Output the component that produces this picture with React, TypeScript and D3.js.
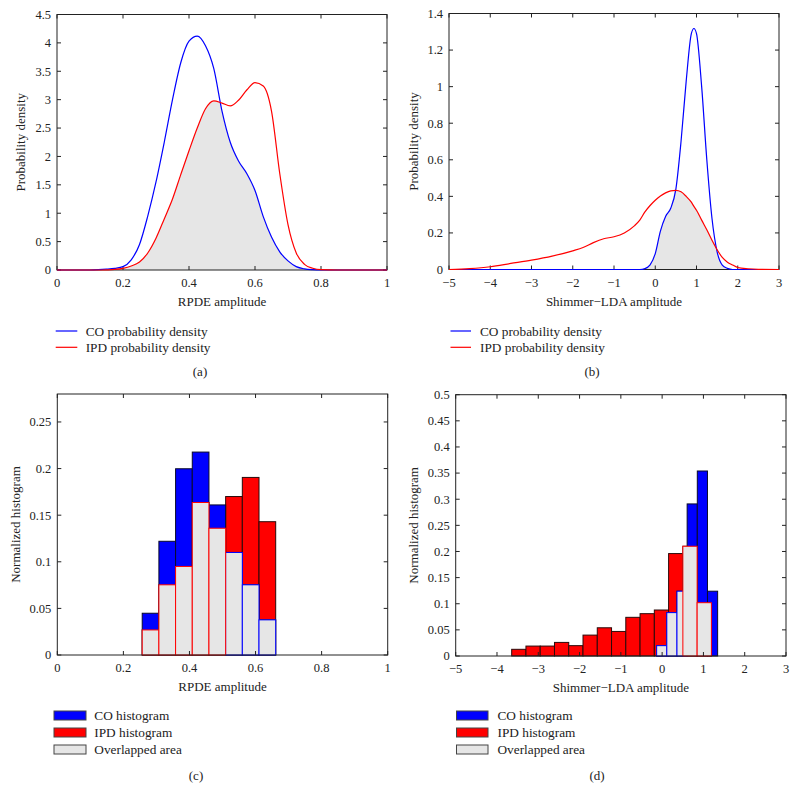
import React from "react";
import * as d3 from "d3";

// ---------- DATA ----------
// (a) RPDE probability densities (common x grid)
const rpdeX = [0, 0.05, 0.1, 0.125, 0.15, 0.175, 0.2, 0.225, 0.25, 0.275, 0.3, 0.325, 0.35, 0.375, 0.4, 0.425, 0.45, 0.475, 0.5, 0.525, 0.55, 0.575, 0.6, 0.625, 0.65, 0.675, 0.7, 0.725, 0.75, 0.775, 0.8, 0.85, 1];
const rpdeCO = [0, 0, 0, 0.005, 0.015, 0.03, 0.06, 0.18, 0.45, 0.95, 1.55, 2.25, 3.0, 3.65, 4.03, 4.12, 3.95, 3.55, 2.8, 2.25, 1.92, 1.7, 1.4, 0.94, 0.58, 0.32, 0.16, 0.06, 0.02, 0.005, 0, 0, 0];
const rpdeIPD = [0, 0, 0, 0, 0.003, 0.01, 0.03, 0.07, 0.14, 0.3, 0.56, 0.9, 1.25, 1.68, 2.1, 2.5, 2.84, 2.98, 2.94, 2.89, 2.99, 3.17, 3.3, 3.24, 2.8, 1.7, 0.8, 0.3, 0.1, 0.03, 0.005, 0, 0];

// (b) Shimmer-LDA probability densities (common x grid)
const shimX = [-5, -4.5, -4, -3.5, -3, -2.5, -2, -1.75, -1.5, -1.25, -1, -0.75, -0.5, -0.375, -0.25, -0.125, 0, 0.125, 0.25, 0.375, 0.5, 0.625, 0.75, 0.875, 0.9375, 1, 1.125, 1.25, 1.375, 1.5, 1.625, 1.75, 1.875, 2, 2.25, 2.5, 3];
const shimCO = [0, 0, 0, 0, 0, 0, 0, 0, 0, 0, 0, 0, 0, 0, 0.005, 0.025, 0.087, 0.21, 0.29, 0.335, 0.44, 0.7, 1.03, 1.29, 1.318, 1.29, 1.0, 0.6, 0.28, 0.097, 0.024, 0.006, 0, 0, 0, 0, 0];
const shimIPD = [0, 0.005, 0.015, 0.033, 0.051, 0.073, 0.102, 0.12, 0.147, 0.168, 0.179, 0.2, 0.24, 0.27, 0.315, 0.35, 0.379, 0.402, 0.419, 0.43, 0.433, 0.425, 0.4, 0.368, 0.345, 0.324, 0.27, 0.217, 0.16, 0.108, 0.066, 0.04, 0.025, 0.011, 0.004, 0.001, 0];

// (c) RPDE normalized histograms (shared bins)
const rpdeBinStart = 0.257;
const rpdeBinWidth = 0.0505;
const rpdeHistCO = [0.0448, 0.122, 0.1998, 0.2177, 0.161, 0.11, 0.0753, 0.0377];
const rpdeHistIPD = [0.0269, 0.0753, 0.095, 0.1636, 0.136, 0.17, 0.1905, 0.143];

// (d) Shimmer-LDA normalized histograms (separate bins)
const shimCOBinStart = -0.133;
const shimCOBinWidth = 0.2462;
const shimHistCO = [0.0198, 0.083, 0.124, 0.291, 0.354, 0.124];
const shimIPDBinStart = -3.644;
const shimIPDBinWidth = 0.3455;
const shimHistIPD = [0.0128, 0.019, 0.019, 0.026, 0.0198, 0.04, 0.054, 0.047, 0.074, 0.081, 0.088, 0.196, 0.21, 0.102];

// ticks
const rpdeXTicks = [0, 0.2, 0.4, 0.6, 0.8, 1];
const shimXTicks = [-5, -4, -3, -2, -1, 0, 1, 2, 3];
const rpdeDensYTicks = [0, 0.5, 1, 1.5, 2, 2.5, 3, 3.5, 4, 4.5];
const shimDensYTicks = [0, 0.2, 0.4, 0.6, 0.8, 1, 1.2, 1.4];
const rpdeHistYTicks = [0, 0.05, 0.1, 0.15, 0.2, 0.25];
const shimHistYTicks = [0, 0.05, 0.1, 0.15, 0.2, 0.25, 0.3, 0.35, 0.4, 0.45, 0.5];

// ---------- STYLE ----------
const FONT = "'Liberation Serif', 'Times New Roman', serif";
const BLUE = "#0000ff";
const RED = "#ff0000";
const GRAY = "#e6e6e6";
const FRAME = "#222";
const TICK_FS = 12.5;
const LABEL_FS = 13;
const LEGEND_FS = 13.3;

const fmt = (v: number) => String(Math.round(v * 1000) / 1000).replace("-", "\u2212");

function Frame({ x, y, xTicks, yTicks }: any) {
  const [x0, x1] = x.range();
  const [y0, y1] = y.range();
  const tl = 4;
  return (
    <g>
      <rect x={x0} y={y1} width={x1 - x0} height={y0 - y1} fill="none" stroke={FRAME} strokeWidth={1} />
      {xTicks.map((t: number) => (
        <g key={"x" + t}>
          <line x1={x(t)} x2={x(t)} y1={y0} y2={y0 - tl} stroke={FRAME} />
          <line x1={x(t)} x2={x(t)} y1={y1} y2={y1 + tl} stroke={FRAME} />
          <text x={x(t)} y={y0 + 17} textAnchor="middle" fontSize={TICK_FS} fontFamily={FONT} fill="#222">{fmt(t)}</text>
        </g>
      ))}
      {yTicks.map((t: number) => (
        <g key={"y" + t}>
          <line x1={x0} x2={x0 + tl} y1={y(t)} y2={y(t)} stroke={FRAME} />
          <line x1={x1} x2={x1 - tl} y1={y(t)} y2={y(t)} stroke={FRAME} />
          <text x={x0 - 6} y={y(t)} dy="0.35em" textAnchor="end" fontSize={TICK_FS} fontFamily={FONT} fill="#222">{fmt(t)}</text>
        </g>
      ))}
    </g>
  );
}

function Labels({ x, y, xLabel, yLabel, yLabelX, caption, capX, capY }: any) {
  const [x0, x1] = x.range();
  const [y0, y1] = y.range();
  const cy = (y0 + y1) / 2;
  return (
    <g fontFamily={FONT} fill="#222">
      <text x={(x0 + x1) / 2} y={y0 + 36} textAnchor="middle" fontSize={LABEL_FS}>{xLabel}</text>
      <text transform={`translate(${yLabelX},${cy}) rotate(-90)`} textAnchor="middle" dy="0.35em" fontSize={LABEL_FS}>{yLabel}</text>
      <text x={capX} y={capY} textAnchor="middle" fontSize={LABEL_FS}>{caption}</text>
    </g>
  );
}

// min of two series with crossing points inserted
function minSeries(xs: number[], a: number[], b: number[]) {
  const out: [number, number][] = [];
  for (let i = 0; i < xs.length; i++) {
    if (i > 0) {
      const d0 = a[i - 1] - b[i - 1];
      const d1 = a[i] - b[i];
      if (d0 * d1 < 0) {
        const t = d0 / (d0 - d1);
        const xc = xs[i - 1] + t * (xs[i] - xs[i - 1]);
        const yc = a[i - 1] + t * (a[i] - a[i - 1]);
        out.push([xc, yc]);
      }
    }
    out.push([xs[i], Math.min(a[i], b[i])]);
  }
  return out;
}

function DensityPanel({ cfg, xs, co, ipd, xDomain, yDomain, xTicks, yTicks, xLabel, caption }: any) {
  const x = d3.scaleLinear().domain(xDomain).range([cfg.left, cfg.right]);
  const y = d3.scaleLinear().domain(yDomain).range([cfg.bottom, cfg.top]);
  const line = d3
    .line<[number, number]>()
    .x((d) => x(d[0]))
    .y((d) => y(d[1]))
    .curve(d3.curveMonotoneX);
  const area = d3
    .area<[number, number]>()
    .x((d) => x(d[0]))
    .y0(y(0))
    .y1((d) => y(d[1]))
    .curve(d3.curveMonotoneX);
  const coPts = xs.map((v: number, i: number) => [v, co[i]] as [number, number]);
  const ipdPts = xs.map((v: number, i: number) => [v, ipd[i]] as [number, number]);
  const minPts = minSeries(xs, co, ipd);
  return (
    <g>
      <path d={area(minPts) || ""} fill={GRAY} stroke="none" />
      <Frame x={x} y={y} xTicks={xTicks} yTicks={yTicks} />
      <path d={line(coPts) || ""} fill="none" stroke={BLUE} strokeWidth={1.2} />
      <path d={line(ipdPts) || ""} fill="none" stroke={RED} strokeWidth={1.2} />
      <Labels x={x} y={y} xLabel={xLabel} yLabel="Probability density" yLabelX={cfg.yLabelX} caption={caption} capX={cfg.capX} capY={cfg.capY} />
      <g fontFamily={FONT} fontSize={LEGEND_FS} fill="#222">
        {[
          { c: BLUE, t: "CO probability density" },
          { c: RED, t: "IPD probability density" },
        ].map((e, i) => (
          <g key={i}>
            <line x1={cfg.legX0} x2={cfg.legX1} y1={cfg.legY[i]} y2={cfg.legY[i]} stroke={e.c} strokeWidth={1.2} />
            <text x={cfg.legTextX} y={cfg.legY[i]} dy="0.35em">{e.t}</text>
          </g>
        ))}
      </g>
    </g>
  );
}

function HistPanel({ cfg, coStart, coWidth, co, ipdStart, ipdWidth, ipd, xDomain, yDomain, xTicks, yTicks, xLabel, caption }: any) {
  const x = d3.scaleLinear().domain(xDomain).range([cfg.left, cfg.right]);
  const y = d3.scaleLinear().domain(yDomain).range([cfg.bottom, cfg.top]);
  const coBins = co.map((v: number, i: number) => ({ a: coStart + i * coWidth, b: coStart + (i + 1) * coWidth, v }));
  const ipdBins = ipd.map((v: number, i: number) => ({ a: ipdStart + i * ipdWidth, b: ipdStart + (i + 1) * ipdWidth, v }));
  const valueAt = (bins: any[], xv: number) => {
    const f = bins.find((d) => xv >= d.a && xv < d.b);
    return f ? f.v : 0;
  };
  const overlap: any[] = [];
  coBins.forEach((d: any) => {
    const other = valueAt(ipdBins, (d.a + d.b) / 2);
    if (d.v <= other) overlap.push({ ...d, stroke: BLUE });
  });
  ipdBins.forEach((d: any) => {
    const other = valueAt(coBins, (d.a + d.b) / 2);
    if (d.v < other) overlap.push({ ...d, stroke: RED });
  });
  const rect = (d: any, fill: string, stroke: string, key: string) => (
    <rect key={key} x={x(d.a)} y={y(d.v)} width={x(d.b) - x(d.a)} height={y(0) - y(d.v)} fill={fill} stroke={stroke} strokeWidth={1} />
  );
  const swatches = [
    { f: BLUE, t: "CO histogram" },
    { f: RED, t: "IPD histogram" },
    { f: GRAY, t: "Overlapped area" },
  ];
  return (
    <g>
      {ipdBins.map((d: any, i: number) => rect(d, RED, "#2a0a0a", "r" + i))}
      {coBins.map((d: any, i: number) => rect(d, BLUE, "#0a0a2a", "b" + i))}
      {overlap.map((d: any, i: number) => rect(d, GRAY, d.stroke, "g" + i))}
      <Frame x={x} y={y} xTicks={xTicks} yTicks={yTicks} />
      <Labels x={x} y={y} xLabel={xLabel} yLabel="Normalized histogram" yLabelX={cfg.yLabelX} caption={caption} capX={cfg.capX} capY={cfg.capY} />
      <g fontFamily={FONT} fontSize={LEGEND_FS} fill="#222">
        {swatches.map((e, i) => (
          <g key={i}>
            <rect x={cfg.legX0} y={cfg.legY[i] - 4.5} width={cfg.legX1 - cfg.legX0} height={9} fill={e.f} stroke="#444" strokeWidth={1} />
            <text x={cfg.legTextX} y={cfg.legY[i]} dy="0.35em">{e.t}</text>
          </g>
        ))}
      </g>
    </g>
  );
}

const cfgA = { left: 57, right: 387, top: 14.5, bottom: 270, yLabelX: 20, capX: 200, capY: 376, legX0: 55.7, legX1: 77.3, legTextX: 85.7, legY: [331, 347.3] };
const cfgB = { left: 449, right: 779, top: 13.5, bottom: 269.5, yLabelX: 413, capX: 592, capY: 376, legX0: 450.5, legX1: 471, legTextX: 480, legY: [331, 347.3] };
const cfgC = { left: 57.3, right: 387.7, top: 394, bottom: 655, yLabelX: 15, capX: 196, capY: 780, legX0: 54, legX1: 86, legTextX: 94.3, legY: [715.5, 732.5, 749.5] };
const cfgD = { left: 455.7, right: 786, top: 394.7, bottom: 656, yLabelX: 413, capX: 597, capY: 780, legX0: 456.5, legX1: 488, legTextX: 497.5, legY: [715.5, 732.5, 749.5] };

export default function App() {
  return (
    <svg width={797} height={801} style={{ position: "absolute", left: 0, top: 0, background: "#fff" }}>
      <rect x={0} y={0} width={797} height={801} fill="#fff" />
      <DensityPanel cfg={cfgA} xs={rpdeX} co={rpdeCO} ipd={rpdeIPD} xDomain={[0, 1]} yDomain={[0, 4.5]} xTicks={rpdeXTicks} yTicks={rpdeDensYTicks} xLabel="RPDE amplitude" caption="(a)" />
      <DensityPanel cfg={cfgB} xs={shimX} co={shimCO} ipd={shimIPD} xDomain={[-5, 3]} yDomain={[0, 1.4]} xTicks={shimXTicks} yTicks={shimDensYTicks} xLabel={"Shimmer\u2212LDA amplitude"} caption="(b)" />
      <HistPanel cfg={cfgC} coStart={rpdeBinStart} coWidth={rpdeBinWidth} co={rpdeHistCO} ipdStart={rpdeBinStart} ipdWidth={rpdeBinWidth} ipd={rpdeHistIPD} xDomain={[0, 1]} yDomain={[0, 0.28]} xTicks={rpdeXTicks} yTicks={rpdeHistYTicks} xLabel="RPDE amplitude" caption="(c)" />
      <HistPanel cfg={cfgD} coStart={shimCOBinStart} coWidth={shimCOBinWidth} co={shimHistCO} ipdStart={shimIPDBinStart} ipdWidth={shimIPDBinWidth} ipd={shimHistIPD} xDomain={[-5, 3]} yDomain={[0, 0.5]} xTicks={shimXTicks} yTicks={shimHistYTicks} xLabel={"Shimmer\u2212LDA amplitude"} caption="(d)" />
    </svg>
  );
}
